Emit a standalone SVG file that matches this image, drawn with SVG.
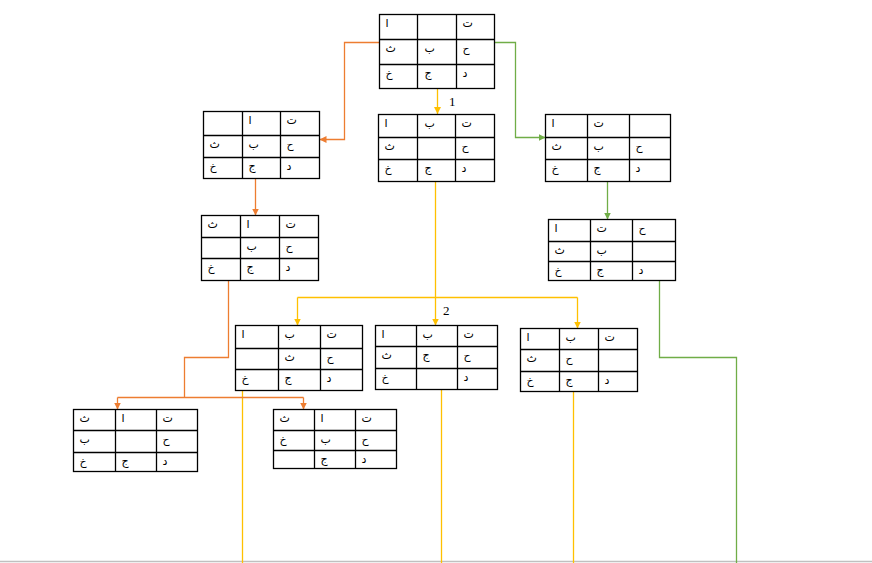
<svg xmlns="http://www.w3.org/2000/svg" width="872" height="563" viewBox="0 0 872 563">
<style>
.grid{fill:#fff;stroke:#000;stroke-width:1.3}
.gl{stroke:#000;stroke-width:1.3}
.t{font-family:"DejaVu Sans",sans-serif;font-size:11px;fill:#000}
.lbl{font-family:"Liberation Serif",serif;font-size:13px;fill:#000}
.cy{fill:none;stroke:#FFC000;stroke-width:1.3}
.co{fill:none;stroke:#ED7D31;stroke-width:1.3}
.cg{fill:none;stroke:#70AD47;stroke-width:1.3}
</style>
<defs>
<marker id="ay" viewBox="0 0 10 10" refX="10" refY="5" markerUnits="userSpaceOnUse" markerWidth="7" markerHeight="7" orient="auto"><path d="M0,0 L10,5 L0,10 z" fill="#FFC000"/></marker>
<marker id="ao" viewBox="0 0 10 10" refX="10" refY="5" markerUnits="userSpaceOnUse" markerWidth="7" markerHeight="7" orient="auto"><path d="M0,0 L10,5 L0,10 z" fill="#ED7D31"/></marker>
<marker id="ag" viewBox="0 0 10 10" refX="10" refY="5" markerUnits="userSpaceOnUse" markerWidth="7" markerHeight="7" orient="auto"><path d="M0,0 L10,5 L0,10 z" fill="#70AD47"/></marker>
</defs>
<rect width="872" height="563" fill="#fff"/>
<line x1="0" y1="561.5" x2="872" y2="561.5" stroke="#c0c0c0" stroke-width="1.5"/>

<g id="connectors">
<path class="cy" d="M437.5,89 V114" marker-end="url(#ay)"/>
<path class="cy" d="M435.5,181.5 V297.5"/>
<path class="cy" d="M297.5,297.5 H577.5"/>
<path class="cy" d="M297.5,297.5 V325.5" marker-end="url(#ay)"/>
<path class="cy" d="M435.5,297.5 V325.5" marker-end="url(#ay)"/>
<path class="cy" d="M577.5,297.5 V328.5" marker-end="url(#ay)"/>
<path class="cy" d="M242.5,390.5 V563"/>
<path class="cy" d="M441.5,389.5 V563"/>
<path class="cy" d="M573.5,391.5 V563"/>
<path class="co" d="M379.5,42.5 H344.5 V139.5 H319.5" marker-end="url(#ao)"/>
<path class="co" d="M255.5,178.5 V215.5" marker-end="url(#ao)"/>
<path class="co" d="M228.5,280.5 V357.5 H184.5 V397.5"/>
<path class="co" d="M117.5,397.5 H303.5"/>
<path class="co" d="M117.5,397.5 V409.5" marker-end="url(#ao)"/>
<path class="co" d="M303.5,397.5 V409.5" marker-end="url(#ao)"/>
<path class="cg" d="M494.5,42.5 H515.5 V137.5 H545.5" marker-end="url(#ag)"/>
<path class="cg" d="M607.5,181.5 V219.5" marker-end="url(#ag)"/>
<path class="cg" d="M659.5,280.5 V357.5 H736.5 V563"/>
</g>
<text class="lbl" x="449" y="106">1</text>
<text class="lbl" x="443" y="315">2</text>

<g id="t0">
<rect class="grid" x="379.5" y="14.5" width="115" height="74"/>
<path class="gl" d="M417.5,14.5 V88.5 M456.5,14.5 V88.5 M379.5,39.5 H494.5 M379.5,64.5 H494.5"/>
<text class="t" x="385.5" y="26.5">ا</text><text class="t" x="462.5" y="26.5">ت</text>
<text class="t" x="385.5" y="51.5">ث</text><text class="t" x="424.5" y="51.5">ب</text><text class="t" x="462.5" y="51.5">ح</text>
<text class="t" x="385.5" y="76.5">خ</text><text class="t" x="424.5" y="76.5">ج</text><text class="t" x="462.5" y="76.5">د</text>
</g>

<g id="t1">
<rect class="grid" x="378.5" y="114.5" width="116" height="67"/>
<path class="gl" d="M417.5,114.5 V181.5 M455.5,114.5 V181.5 M378.5,137.5 H494.5 M378.5,159.5 H494.5"/>
<text class="t" x="384.5" y="126.5">ا</text><text class="t" x="424.5" y="126.5">ب</text><text class="t" x="461.5" y="126.5">ت</text>
<text class="t" x="384.5" y="149.5">ث</text><text class="t" x="461.5" y="149.5">ح</text>
<text class="t" x="384.5" y="171.5">خ</text><text class="t" x="424.5" y="171.5">ج</text><text class="t" x="461.5" y="171.5">د</text>
</g>

<g id="l1">
<rect class="grid" x="203.5" y="111.5" width="116" height="67"/>
<path class="gl" d="M242.5,111.5 V178.5 M280.5,111.5 V178.5 M203.5,135.5 H319.5 M203.5,157.5 H319.5"/>
<text class="t" x="248.5" y="123.5">ا</text><text class="t" x="286.5" y="123.5">ت</text>
<text class="t" x="209.5" y="147.5">ث</text><text class="t" x="248.5" y="147.5">ب</text><text class="t" x="286.5" y="147.5">ح</text>
<text class="t" x="209.5" y="169.5">خ</text><text class="t" x="248.5" y="169.5">ج</text><text class="t" x="286.5" y="169.5">د</text>
</g>

<g id="l2">
<rect class="grid" x="201.5" y="215.5" width="117" height="65"/>
<path class="gl" d="M240.5,215.5 V280.5 M279.5,215.5 V280.5 M201.5,237.5 H318.5 M201.5,258.5 H318.5"/>
<text class="t" x="207.5" y="227.5">ث</text><text class="t" x="246.5" y="227.5">ا</text><text class="t" x="285.5" y="227.5">ت</text>
<text class="t" x="246.5" y="249.5">ب</text><text class="t" x="285.5" y="249.5">ح</text>
<text class="t" x="207.5" y="270.5">خ</text><text class="t" x="246.5" y="270.5">ج</text><text class="t" x="285.5" y="270.5">د</text>
</g>

<g id="r1">
<rect class="grid" x="545.5" y="114.5" width="125" height="67"/>
<path class="gl" d="M587.5,114.5 V181.5 M629.5,114.5 V181.5 M545.5,137.5 H670.5 M545.5,159.5 H670.5"/>
<text class="t" x="551.5" y="126.5">ا</text><text class="t" x="593.5" y="126.5">ت</text>
<text class="t" x="551.5" y="149.5">ث</text><text class="t" x="593.5" y="149.5">ب</text><text class="t" x="635.5" y="149.5">ح</text>
<text class="t" x="551.5" y="171.5">خ</text><text class="t" x="593.5" y="171.5">ج</text><text class="t" x="635.5" y="171.5">د</text>
</g>

<g id="r2">
<rect class="grid" x="548.5" y="219.5" width="127" height="61"/>
<path class="gl" d="M590.5,219.5 V280.5 M632.5,219.5 V280.5 M548.5,241.5 H675.5 M548.5,261.5 H675.5"/>
<text class="t" x="554.5" y="231.5">ا</text><text class="t" x="596.5" y="231.5">ت</text><text class="t" x="638.5" y="231.5">ح</text>
<text class="t" x="554.5" y="253.5">ث</text><text class="t" x="596.5" y="253.5">ب</text>
<text class="t" x="554.5" y="273.5">خ</text><text class="t" x="596.5" y="273.5">ج</text><text class="t" x="638.5" y="273.5">د</text>
</g>

<g id="m1">
<rect class="grid" x="235.5" y="325.5" width="127" height="65"/>
<path class="gl" d="M278.5,325.5 V390.5 M320.5,325.5 V390.5 M235.5,348.5 H362.5 M235.5,369.5 H362.5"/>
<text class="t" x="241.5" y="337.5">ا</text><text class="t" x="284.5" y="337.5">ب</text><text class="t" x="326.5" y="337.5">ت</text>
<text class="t" x="284.5" y="360.5">ث</text><text class="t" x="326.5" y="360.5">ح</text>
<text class="t" x="241.5" y="381.5">خ</text><text class="t" x="284.5" y="381.5">ج</text><text class="t" x="326.5" y="381.5">د</text>
</g>

<g id="m2">
<rect class="grid" x="375.5" y="325.5" width="122" height="64"/>
<path class="gl" d="M416.5,325.5 V389.5 M457.5,325.5 V389.5 M375.5,346.5 H497.5 M375.5,368.5 H497.5"/>
<text class="t" x="381.5" y="337.5">ا</text><text class="t" x="422.5" y="337.5">ب</text><text class="t" x="463.5" y="337.5">ت</text>
<text class="t" x="381.5" y="358.5">ث</text><text class="t" x="422.5" y="358.5">ج</text><text class="t" x="463.5" y="358.5">ح</text>
<text class="t" x="381.5" y="380.5">خ</text><text class="t" x="463.5" y="380.5">د</text>
</g>

<g id="m3">
<rect class="grid" x="520.5" y="328.5" width="117" height="63"/>
<path class="gl" d="M559.5,328.5 V391.5 M598.5,328.5 V391.5 M520.5,349.5 H637.5 M520.5,371.5 H637.5"/>
<text class="t" x="526.5" y="340.5">ا</text><text class="t" x="565.5" y="340.5">ب</text><text class="t" x="604.5" y="340.5">ت</text>
<text class="t" x="526.5" y="361.5">ث</text><text class="t" x="565.5" y="361.5">ح</text>
<text class="t" x="526.5" y="383.5">خ</text><text class="t" x="565.5" y="383.5">ج</text><text class="t" x="604.5" y="383.5">د</text>
</g>

<g id="ll1">
<rect class="grid" x="73.5" y="409.5" width="124" height="62"/>
<path class="gl" d="M115.5,409.5 V471.5 M156.5,409.5 V471.5 M73.5,430.5 H197.5 M73.5,452.5 H197.5"/>
<text class="t" x="79.5" y="421.5">ث</text><text class="t" x="121.5" y="421.5">ا</text><text class="t" x="162.5" y="421.5">ت</text>
<text class="t" x="79.5" y="442.5">ب</text><text class="t" x="162.5" y="442.5">ح</text>
<text class="t" x="79.5" y="464.5">خ</text><text class="t" x="121.5" y="464.5">ج</text><text class="t" x="162.5" y="464.5">د</text>
</g>

<g id="ll2">
<rect class="grid" x="273.5" y="409.5" width="123" height="59"/>
<path class="gl" d="M314.5,409.5 V468.5 M355.5,409.5 V468.5 M273.5,430.5 H396.5 M273.5,450.5 H396.5"/>
<text class="t" x="279.5" y="421.5">ث</text><text class="t" x="320.5" y="421.5">ا</text><text class="t" x="361.5" y="421.5">ت</text>
<text class="t" x="279.5" y="442.5">خ</text><text class="t" x="320.5" y="442.5">ب</text><text class="t" x="361.5" y="442.5">ح</text>
<text class="t" x="320.5" y="462.5">ج</text><text class="t" x="361.5" y="462.5">د</text>
</g>
</svg>
